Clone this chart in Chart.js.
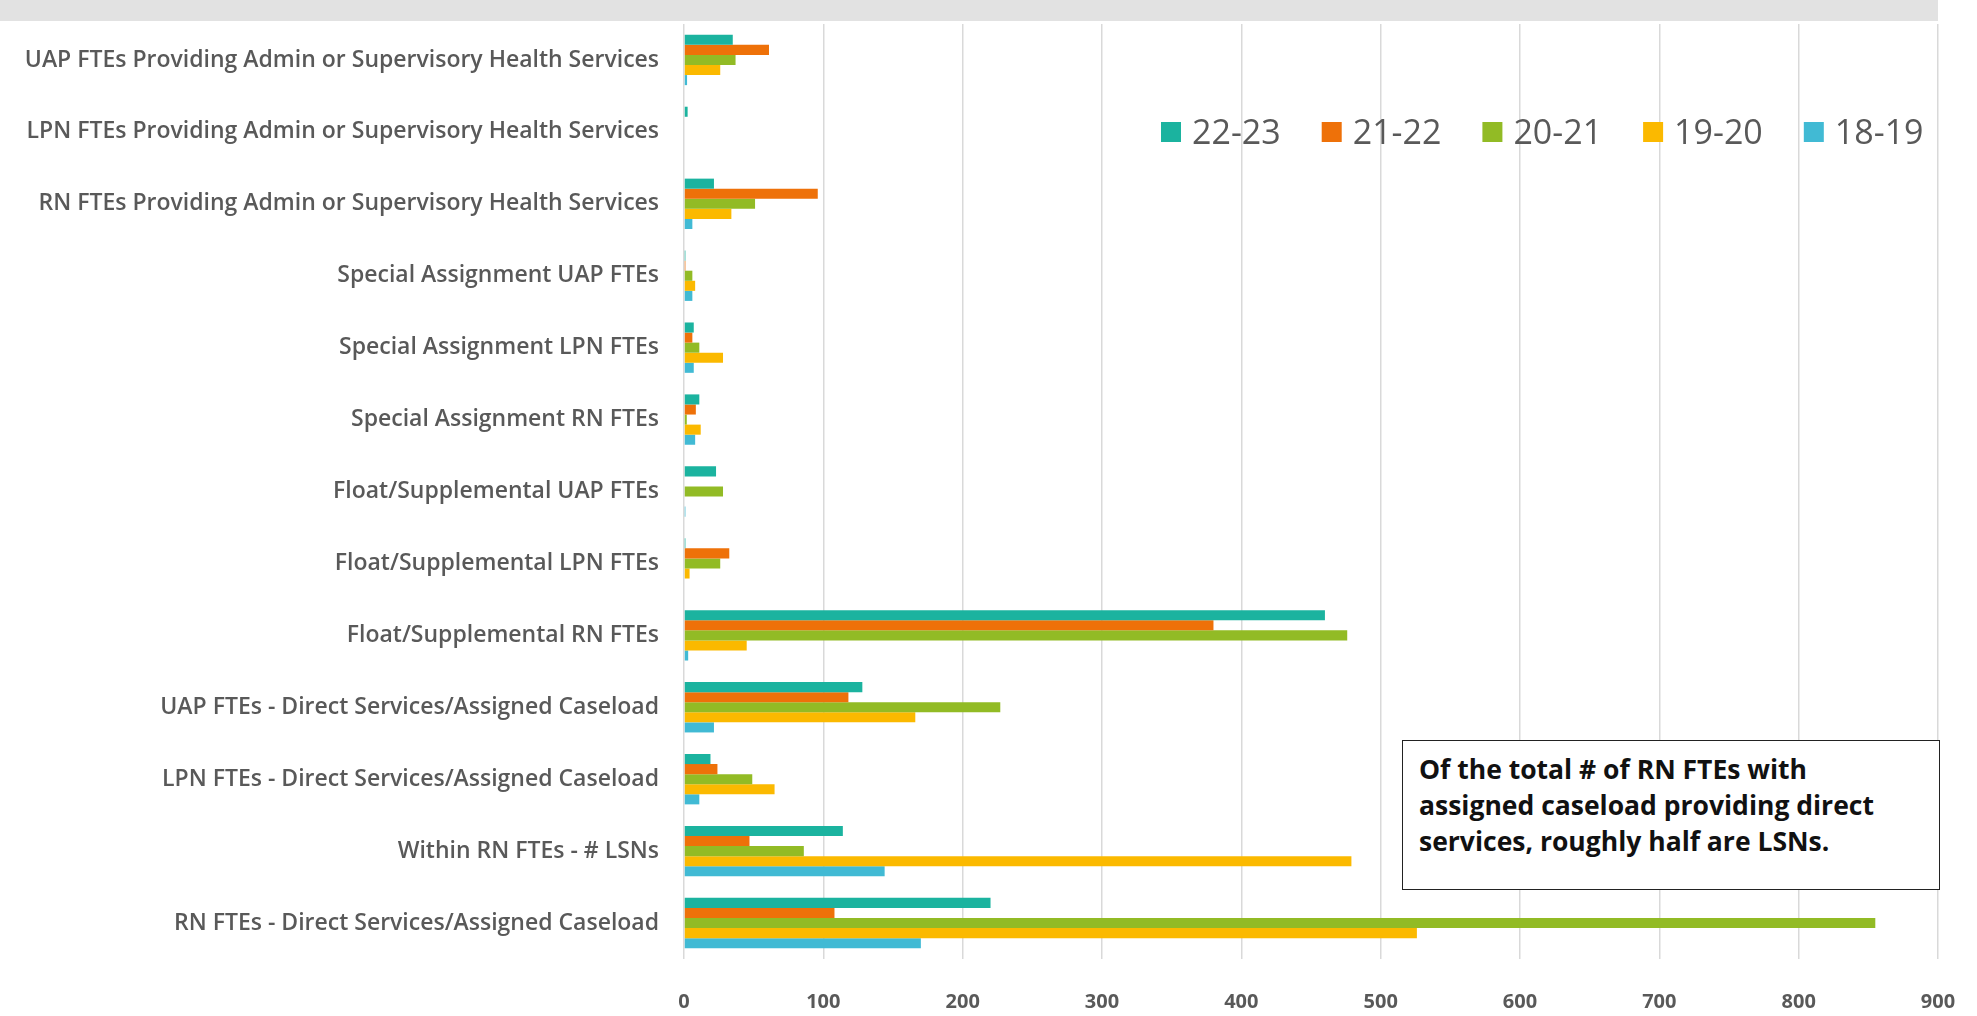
<!DOCTYPE html>
<html>
<head>
<meta charset="utf-8">
<script src="https://cdn.jsdelivr.net/npm/chart.js@4.4.1/dist/chart.umd.min.js"></script>
<style>
    html, body { margin: 0; padding: 0; background: #fff; }
    #wrap { position: relative; width: 1977px; height: 1016px; overflow: hidden; }
    #bar_chart { display: block; }
    #topband { position: absolute; left: 0; top: 0; width: 1938px; height: 21px; background: #e2e2e2; }
    #note {
        position: absolute; left: 1402px; top: 740px; width: 538px; height: 150px;
        border: 1.5px solid #222; background: #fff; box-sizing: border-box;
        padding: 10px 16px; font-family: "Open Sans", sans-serif; font-weight: bold;
        font-size: 26.5px; line-height: 36px; color: #111; white-space: nowrap;
    }
</style>
</head>
<body>
<div id="wrap">
    <canvas id="bar_chart" width="1977" height="1016"></canvas>
    <div id="topband"></div>
    <div id="note">Of the total # of RN FTEs with<br>assigned caseload providing direct<br>services, roughly half are LSNs.</div>
</div>
<script>
// categories, top to bottom
const categories = [
    'UAP FTEs Providing Admin or Supervisory Health Services',
    'LPN FTEs Providing Admin or Supervisory Health Services',
    'RN FTEs Providing Admin or Supervisory Health Services',
    'Special Assignment UAP FTEs',
    'Special Assignment LPN FTEs',
    'Special Assignment RN FTEs',
    'Float/Supplemental UAP FTEs',
    'Float/Supplemental LPN FTEs',
    'Float/Supplemental RN FTEs',
    'UAP FTEs - Direct Services/Assigned Caseload',
    'LPN FTEs - Direct Services/Assigned Caseload',
    'Within RN FTEs - # LSNs',
    'RN FTEs - Direct Services/Assigned Caseload'
];

const years = ['22-23', '21-22', '20-21', '19-20', '18-19'];
const colors = ['#1bb39f', '#ee7109', '#92bb25', '#fbb900', '#41bad4'];

// values, same order as categories
const fy2223 = [35, 2.6, 21.5, 1, 7, 11, 23, 1, 460, 128, 19, 114, 220];
const fy2122 = [61, 0, 96, 1, 6, 8.5, 0, 32.5, 380, 118, 24, 47, 108];
const fy2021 = [37, 0, 51, 6, 11, 2, 28, 26, 476, 227, 49, 86, 855];
const fy1920 = [26, 0, 34, 8, 28, 12, 0, 4, 45, 166, 65, 479, 526];
const fy1819 = [2.2, 0, 6, 6, 7, 8, 1, 0, 3, 21.5, 11, 144, 170];

const xTicks = [0, 100, 200, 300, 400, 500, 600, 700, 800, 900];

const series = [fy2223, fy2122, fy2021, fy1920, fy1819];

// legend drawn inside the plot, top right
const legendInPlot = {
    id: 'legendInPlot',
    afterDraw(chart) {
        let ctx = chart.ctx;
        ctx.save();
        ctx.font = '34px "Open Sans", sans-serif';
        ctx.textBaseline = 'middle';
        let x = 1161;
        let y = 132;
        chart.data.datasets.forEach(function(ds) {
            ctx.fillStyle = ds.backgroundColor;
            ctx.fillRect(x, y - 10, 20, 20);
            x += 31;
            ctx.fillStyle = '#595959';
            ctx.fillText(ds.label, x, y + 2);
            x += ctx.measureText(ds.label).width + 41;
        });
        ctx.restore();
    }
};

let datasets = years.map(function(yr, i) {
    return {
        label: yr,
        data: series[i],
        backgroundColor: colors[i],
        borderWidth: 0,
        categoryPercentage: 0.7,
        barPercentage: 1.0
    };
});

let config = {
    type: 'bar',
    data: { labels: categories, datasets: datasets },
    options: {
        indexAxis: 'y',
        responsive: false,
        animation: false,
        layout: { padding: { top: 24, right: 39, left: 0, bottom: 0 } },
        plugins: {
            legend: { display: false },
            tooltip: { enabled: false }
        },
        scales: {
            x: {
                min: 0,
                max: 900,
                afterBuildTicks: function(axis) {
                    axis.ticks = xTicks.map(v => ({ value: v }));
                },
                afterFit: function(axis) { axis.height = 57; },
                // invisible tick marks push the labels down without widening the plot margins
                grid: { color: '#d9d9d9', lineWidth: 1.5, drawTicks: true, tickLength: 31, tickColor: 'rgba(0,0,0,0)' },
                border: { display: false },
                ticks: {
                    padding: 0,
                    color: '#595959',
                    font: { family: '"Open Sans", sans-serif', size: 20, weight: 'bold' }
                }
            },
            y: {
                afterFit: function(axis) {
                    axis.width = 684;
                    axis.paddingTop = 0;
                    axis.paddingBottom = 0;
                },
                grid: { display: false },
                border: { display: false },
                ticks: {
                    padding: 17,
                    color: '#595959',
                    font: { family: '"Open Sans", sans-serif', size: 23, weight: 600 }
                }
            }
        }
    },
    plugins: [legendInPlot]
};

let bar_chart = new Chart(document.getElementById('bar_chart'), config);
</script>
</body>
</html>
